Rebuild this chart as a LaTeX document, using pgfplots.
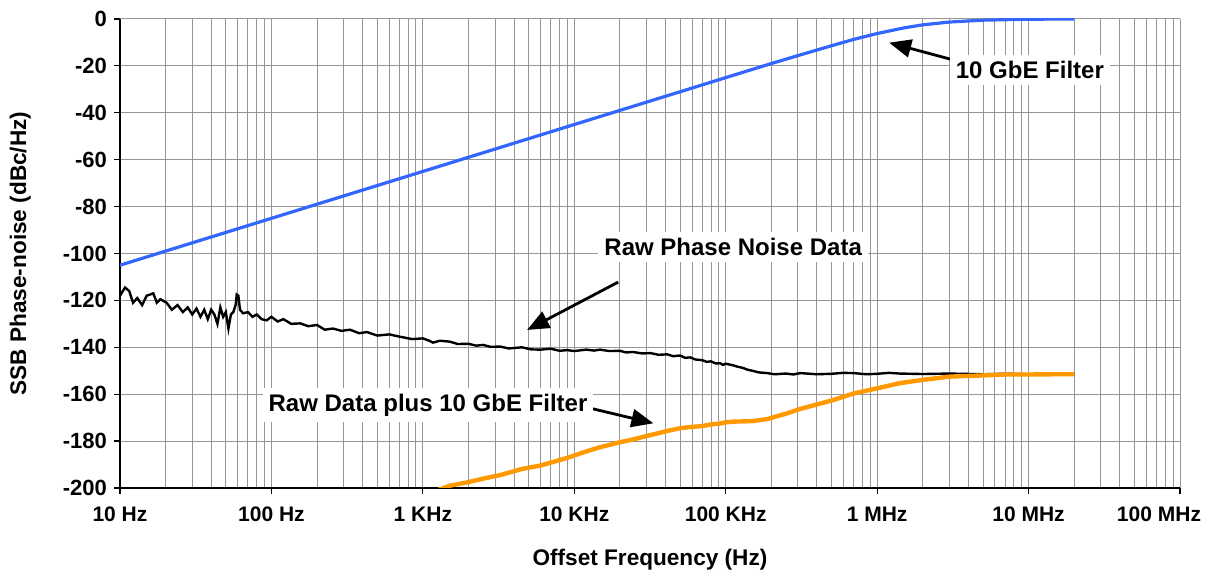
\documentclass[border=0pt]{standalone}
\usepackage{fontspec}
\setmainfont{Liberation Sans}
\usepackage{pgfplots}
\pgfplotsset{compat=1.18}
\usetikzlibrary{arrows.meta}

\definecolor{gbeblue}{RGB}{51,102,255}
\definecolor{sumorange}{RGB}{255,153,0}
\definecolor{gridgray}{RGB}{150,150,150}

\begin{document}
\begin{tikzpicture}[font=\fontsize{10.5pt}{12pt}\selectfont\bfseries,
  callout/.style={-{Triangle[length=11pt,width=9pt]}, line width=1.4pt, black},
  note/.style={fill=white, inner sep=3pt, font=\fontsize{12pt}{14pt}\selectfont\bfseries}]
\begin{axis}[
  scale only axis,
  width=530pt, height=234.5pt,
  xmode=log,
  xmin=10, xmax=1e8,
  ymin=-200, ymax=0,
  xtick={10,100,1000,1e4,1e5,1e6,1e7,1e8},
  xticklabels={10 Hz,100 Hz,1 KHz,10 KHz,100 KHz,1 MHz,10 MHz,\hspace*{-21pt}100 MHz},
  ytick={-200,-180,...,0},
  minor y tick num=0,
  /pgf/number format/assume math mode=true,
  grid=both,
  major grid style={gridgray, line width=0.5pt},
  minor grid style={gridgray, line width=0.5pt},
  axis x line=bottom, axis y line=left,
  axis line style={-, black, line width=0.8pt},
  tick align=outside,
  major tick length=3pt, minor tick length=0pt,
  tick style={black, line width=0.6pt},
  xticklabel style={yshift=-3pt},
  yticklabel style={font=\fontsize{11pt}{13pt}\selectfont\bfseries},
  label style={font=\fontsize{11.3pt}{13pt}\selectfont\bfseries},
  xlabel={Offset Frequency (Hz)},
  ylabel={SSB Phase-noise (dBc/Hz)},
  xlabel style={at={(axis description cs:0.5,-0.1535)}, anchor=center},
  ylabel style={at={(axis description cs:-0.094,0.5)}, anchor=center},
]
% 10 GbE filter
\addplot[gbeblue, line width=1.6pt] coordinates {
  (10,-105.0) (100,-85.0) (1000,-65.0) (1e4,-45.0) (1e5,-25.0)
  (2e5,-19.0) (3e5,-15.6) (5e5,-11.4) (7e5,-8.7) (1e6,-6.2)
  (1.5e6,-3.8) (2e6,-2.5) (3e6,-1.3) (5e6,-0.5) (1e7,-0.1) (2e7,0.0)
};
% raw phase noise data
\addplot[black, line width=1.2pt] coordinates {
  (10,-118) (10.8,-114.5) (11.5,-116) (12.2,-121) (13,-119) (14,-122)
  (15,-118) (16.6,-117) (17.5,-121) (18.5,-119.5) (20.3,-121) (22,-124)
  (24,-122) (26,-125) (28,-123) (30,-126) (32,-123.5) (34,-127)
  (36,-124) (38,-128) (40,-124) (42,-126) (44,-130) (46,-123)
  (48,-127) (50,-125) (52,-132) (54,-126) (56,-125) (58,-122)
  (59,-117.5) (60.5,-118) (62,-124) (65,-125.5) (70,-125) (75,-127)
  (80,-126) (86,-128) (93,-128.5) (100,-127) (110,-129) (120,-128)
  (135,-130) (155,-129.8) (175,-131) (200,-130.5) (225,-132.5) (255,-132)
  (290,-133) (330,-132.5) (380,-134) (427,-133.5) (500,-135) (600,-134.5)
  (707,-135.5) (850,-136.5) (1000,-136.2) (1100,-137.2) (1167,-138) (1300,-137.2)
  (1510,-137.6) (1700,-138.6) (2000,-138.5) (2250,-139.3) (2500,-139) (2800,-139.8)
  (3240,-139.7) (3700,-140.5) (4500,-140) (5200,-140.9) (6000,-141) (7000,-140.6)
  (8000,-141.5) (8950,-141.2) (10000,-141.6) (12000,-141) (13500,-141.4) (14800,-141)
  (17000,-141.6) (20000,-141.5) (22000,-142.2) (24400,-142) (28000,-142.6) (32000,-142.5)
  (36000,-143.2) (41000,-143) (45000,-143.8) (50000,-143.5) (54000,-144.5) (58200,-144.3)
  (63000,-145.2) (70000,-145.5) (75000,-146.2) (80000,-146) (86000,-146.9) (91800,-146.8)
  (96000,-147.5) (100000,-147) (112000,-147.7) (120000,-148.3) (130000,-148.8) (140000,-149.6)
  (150000,-150) (165000,-150.7) (188000,-151) (210000,-151.5) (250000,-151.2) (280000,-151.6)
  (310000,-151) (400000,-151.5) (500000,-151.3) (600000,-150.9) (700000,-151) (850000,-151.5)
  (1e6,-151.3) (1.2e6,-150.9) (1.41e6,-151.2) (2e6,-151.4) (3e6,-151.2) (5e6,-151.5)
  (7e6,-151.3) (1e7,-151.5) (1.5e7,-151.4) (2e7,-151.5)
};
% raw data plus 10 GbE filter
\addplot[sumorange, line width=2.2pt] coordinates {
  (1000,-201.2) (1167,-201.7) (1510,-199.0) (2000,-197.5) (2500,-196.0) (3240,-194.5)
  (4500,-191.9) (6000,-190.4) (8950,-187.2) (12000,-184.4) (14800,-182.6) (20000,-180.5)
  (24400,-179.3) (32000,-177.4) (41000,-175.7) (50000,-174.5) (58200,-174.0) (70000,-173.6)
  (80000,-172.9) (91800,-172.5) (100000,-172.0) (112000,-171.7) (130000,-171.6) (150000,-171.5)
  (188000,-170.6) (250000,-168.3) (310000,-166.3) (500000,-162.7) (700000,-159.7) (1e6,-157.5)
  (1.41e6,-155.3) (2e6,-153.9) (3e6,-152.5) (5e6,-152.0) (7e6,-151.6) (1e7,-151.6)
  (1.5e7,-151.5) (2e7,-151.5)
};
\draw[callout] (axis cs:3.2e6,-17.5) -- (axis cs:1.2e6,-10.1);
\node[note] at (axis cs:1.02e7,-21.7) {10 GbE Filter};
\draw[callout] (axis cs:1.95e4,-112.2) -- (axis cs:4880,-132.6);
\node[note] at (axis cs:1.12e5,-97.2) {Raw Phase Noise Data};
\draw[callout] (axis cs:1.3e4,-166.1) -- (axis cs:3.33e4,-172.4);
\node[note] at (axis cs:1082,-164.6) {Raw Data plus 10 GbE Filter};
\end{axis}
\pgfresetboundingbox
\path ([xshift=-60pt,yshift=-44pt]current axis.south west) rectangle ([xshift=14pt,yshift=9.5pt]current axis.north east);
\end{tikzpicture}
\end{document}
